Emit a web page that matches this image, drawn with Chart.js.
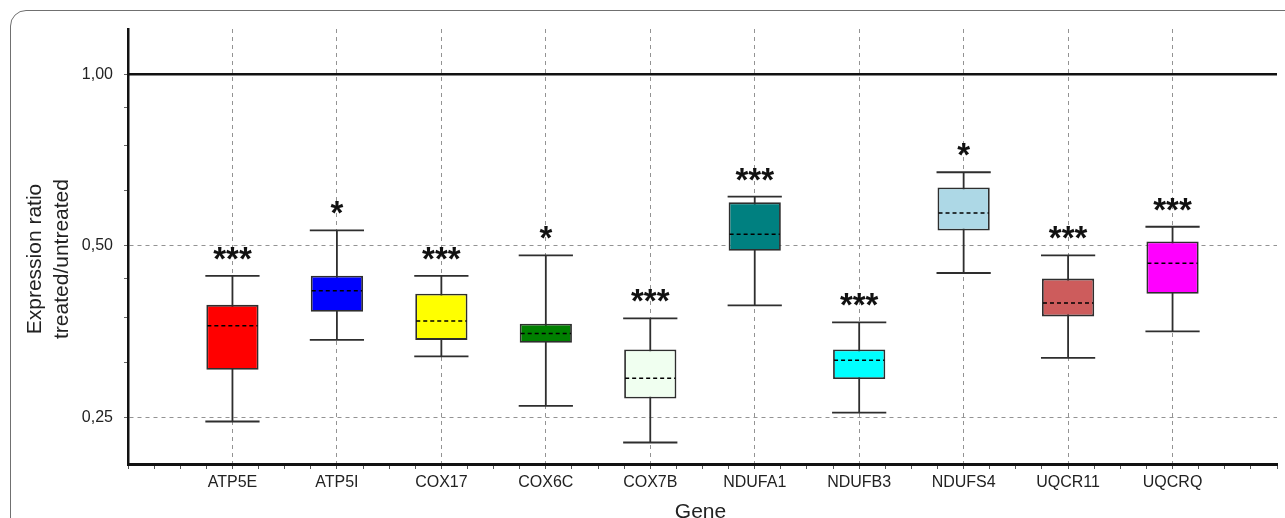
<!DOCTYPE html>
<html>
<head>
<meta charset="utf-8">
<script src="https://cdn.jsdelivr.net/npm/chart.js@4.4.1/dist/chart.umd.min.js"></script>
<style>
  html, body { margin: 0; padding: 0; background: #fff; overflow: hidden; }
  #wrap { position: relative; width: 1285px; height: 518px; overflow: hidden; }
  #frame {
    position: absolute; left: 10px; top: 10px; width: 1320px; height: 560px;
    border: 1.5px solid #707070; border-radius: 16px; box-sizing: border-box;
  }
  #chart { position: absolute; left: 0; top: 0; }
</style>
</head>
<body>
<div id="wrap">
  <div id="frame"></div>
  <canvas id="chart" width="1285" height="518"></canvas>
</div>
<script>
// genes along the x axis
const genes = ["ATP5E", "ATP5I", "COX17", "COX6C", "COX7B", "NDUFA1", "NDUFB3", "NDUFS4", "UQCR11", "UQCRQ"];

// box plot values (expression ratio)
const whiskerLow  = [0.246, 0.342, 0.320, 0.262, 0.226, 0.393, 0.255, 0.448, 0.318, 0.354];
const boxLow      = [0.303, 0.383, 0.342, 0.338, 0.270, 0.490, 0.292, 0.532, 0.376, 0.412];
const medians     = [0.362, 0.417, 0.369, 0.351, 0.293, 0.524, 0.315, 0.571, 0.397, 0.466];
const boxHigh     = [0.394, 0.443, 0.412, 0.365, 0.329, 0.596, 0.329, 0.633, 0.438, 0.509];
const whiskerHigh = [0.443, 0.532, 0.443, 0.481, 0.373, 0.610, 0.367, 0.673, 0.481, 0.540];
const stars       = ["***", "*", "***", "*", "***", "***", "***", "*", "***", "***"];

// y axis ticks (log2 axis)
const yLabelTicks = [0.25, 0.5, 1.0];
const yMinorTicks = [0.3125, 0.375, 0.4375, 0.625, 0.75, 0.875];
const yGridTicks  = [0.25, 0.5];
const refLine = 1.0;

const boxColors = ["#ff0000", "#0000ff", "#ffff00", "#008000", "#f0fff0",
                   "#008080", "#00ffff", "#add8e6", "#cd5c5c", "#ff00ff"];

const FONT = "'Liberation Sans', Arial, Helvetica, sans-serif";

// whiskers, reference line, medians, stars and axis titles
const boxExtras = {
    id: "boxExtras",
    beforeDatasetsDraw(chart) {
        const { ctx, chartArea } = chart;
        const xs = chart.scales.x, ys = chart.scales.y;
        const meta = chart.getDatasetMeta(0);

        // reference line at 1.00
        ctx.save();
        ctx.strokeStyle = "#111";
        ctx.lineWidth = 2.5;
        const yr = ys.getPixelForValue(refLine);
        ctx.beginPath();
        ctx.moveTo(chartArea.left, yr);
        ctx.lineTo(chartArea.right, yr);
        ctx.stroke();

        // whiskers
        ctx.strokeStyle = "#2e2e2e";
        ctx.lineWidth = 1.8;
        genes.forEach((g, i) => {
            const x = xs.getPixelForValue(i + 1);
            const half = meta.data[i].width / 2 + 1;
            const yTop = ys.getPixelForValue(whiskerHigh[i]);
            const yBot = ys.getPixelForValue(whiskerLow[i]);
            ctx.beginPath();
            ctx.moveTo(x, yTop);
            ctx.lineTo(x, yBot);
            ctx.moveTo(x - half, yTop);
            ctx.lineTo(x + half, yTop);
            ctx.moveTo(x - half, yBot);
            ctx.lineTo(x + half, yBot);
            ctx.stroke();
        });
        ctx.restore();
    },
    afterDatasetsDraw(chart) {
        const { ctx } = chart;
        const xs = chart.scales.x, ys = chart.scales.y;
        const meta = chart.getDatasetMeta(0);
        ctx.save();
        // medians
        ctx.strokeStyle = "#000";
        ctx.lineWidth = 1.6;
        ctx.setLineDash([4, 3]);
        genes.forEach((g, i) => {
            const x = xs.getPixelForValue(i + 1);
            const half = meta.data[i].width / 2 - 1;
            const y = ys.getPixelForValue(medians[i]);
            ctx.beginPath();
            ctx.moveTo(x - half, y);
            ctx.lineTo(x + half, y);
            ctx.stroke();
        });
        ctx.setLineDash([]);

        // significance stars
        ctx.fillStyle = "#111";
        ctx.font = "bold 33px " + FONT;
        ctx.textAlign = "center";
        ctx.textBaseline = "alphabetic";
        genes.forEach((g, i) => {
            const x = xs.getPixelForValue(i + 1);
            const y = ys.getPixelForValue(whiskerHigh[i]);
            ctx.fillText(stars[i], x, y - 6);
        });
        ctx.restore();
    },
    afterDraw(chart) {
        const { ctx, chartArea } = chart;
        ctx.save();
        ctx.fillStyle = "#222";
        ctx.font = "21px " + FONT;
        ctx.textAlign = "center";
        // y title
        ctx.save();
        ctx.translate(35, 259);
        ctx.rotate(-Math.PI / 2);
        ctx.textBaseline = "middle";
        ctx.fillText("Expression ratio", 0, 0);
        ctx.fillText("treated/untreated", 0, 27);
        ctx.restore();
        // x title
        ctx.textBaseline = "alphabetic";
        ctx.fillText("Gene", (chartArea.left + chartArea.right) / 2 - 2, 518);
        ctx.restore();
    }
};

new Chart(document.getElementById("chart"), {
    type: "bar",
    data: {
        datasets: [{
            data: genes.map((g, i) => ({ x: i + 1, y: [boxLow[i], boxHigh[i]] })),
            backgroundColor: boxColors,
            borderColor: "#2e2e2e",
            borderWidth: 1.8,
            borderSkipped: false,
            // bar width is measured against the quarter ticks, so 2 x quarter = half a gene slot
            barPercentage: 2.0,
            categoryPercentage: 1.0,
        }]
    },
    options: {
        responsive: false,
        animation: false,
        layout: { padding: { top: 29, right: 8, left: 0, bottom: 0 } },
        plugins: {
            legend: { display: false },
            tooltip: { enabled: false },
        },
        scales: {
            x: {
                type: "linear",
                offset: false,
                min: 0,
                max: genes.length + 1,
                afterBuildTicks: (scale) => {
                    const t = [];
                    for (let v = 0; v <= genes.length + 1; v += 0.25) t.push({ value: v });
                    scale.ticks = t;
                },
                afterFit: (scale) => { scale.height = 54; },
                ticks: {
                    autoSkip: false,
                    maxRotation: 0,
                    minRotation: 0,
                    padding: 4,
                    color: "#222",
                    font: { family: FONT, size: 16 },
                    callback: (v) => (Number.isInteger(v) && v >= 1 && v <= genes.length) ? genes[v - 1] : "",
                },
                grid: {
                    offset: false,
                    color: (c) => {
                        const v = c.tick ? c.tick.value : 0;
                        return (Number.isInteger(v) && v >= 1 && v <= genes.length) ? "#939393" : "rgba(0,0,0,0)";
                    },
                    lineWidth: 1,
                    tickColor: "#555",
                    tickLength: 5,
                    tickWidth: 1,
                    tickBorderDash: [],
                },
                border: { display: true, color: "#111", width: 3, dash: [4, 4] },
            },
            y: {
                type: "logarithmic",
                min: 0.2072,
                max: 1.2,
                afterBuildTicks: (scale) => {
                    scale.ticks = yLabelTicks.concat(yMinorTicks)
                        .sort((a, b) => a - b)
                        .map(v => ({ value: v }));
                },
                afterFit: (scale) => { scale.width = 128; },
                ticks: {
                    autoSkip: false,
                    padding: 11,
                    color: "#222",
                    font: { family: FONT, size: 16 },
                    callback: (v) => yLabelTicks.includes(v) ? v.toFixed(2).replace(".", ",") : "",
                },
                grid: {
                    color: (c) => (c.tick && yGridTicks.includes(c.tick.value)) ? "#939393" : "rgba(0,0,0,0)",
                    lineWidth: 1,
                    tickColor: "#666",
                    tickLength: 4,
                    tickWidth: 1,
                    tickBorderDash: [],
                },
                border: { display: true, color: "#111", width: 2.5, dash: [4, 4] },
            }
        }
    },
    plugins: [boxExtras]
});
</script>
</body>
</html>
